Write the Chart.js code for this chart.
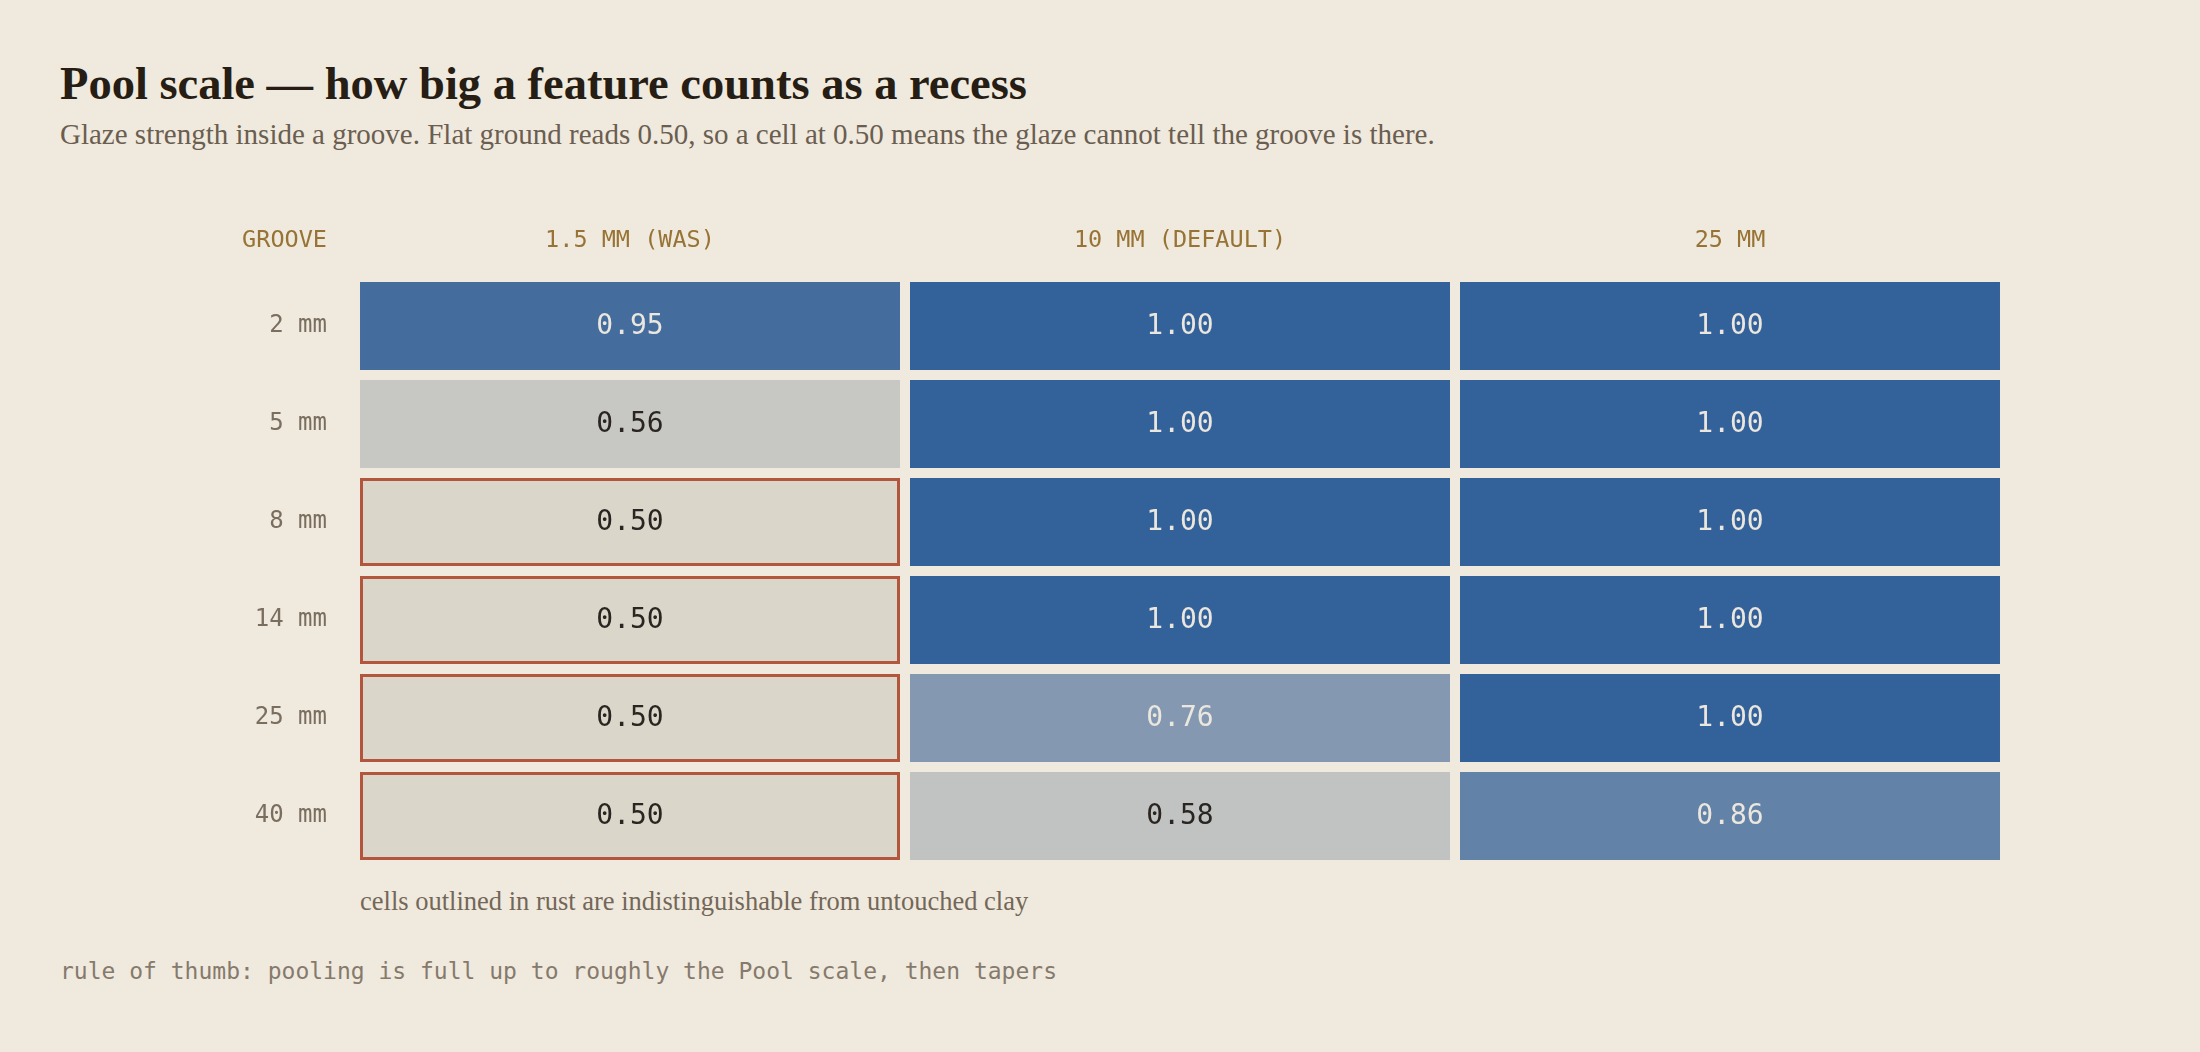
<!DOCTYPE html>
<html>
<head>
<meta charset="utf-8">
<script src="https://cdn.jsdelivr.net/npm/chart.js@4.4.1/dist/chart.umd.min.js"></script>
<style>
  html, body {
    margin: 0;
    padding: 0;
    background: #f0e9de;
    width: 2200px;
    height: 1052px;
    overflow: hidden;
  }
  .txt {
    position: absolute;
    left: 60px;
    line-height: 1;
    white-space: nowrap;
  }
  #title {
    top: 57px;
    font: 700 46.5px "Liberation Serif", serif;
    color: #261d14;
  }
  #subtitle {
    top: 118px;
    font: 400 29px "Liberation Serif", serif;
    color: #6a5e50;
  }
  #note {
    left: 360px;
    top: 886px;
    font: 400 26.5px "Liberation Serif", serif;
    color: #736758;
  }
  #rule {
    top: 958px;
    font: 400 23px "DejaVu Sans Mono", monospace;
    color: #857a6c;
  }
  #wrap {
    position: absolute;
    left: 0;
    top: 190px;
    width: 2200px;
    height: 690px;
  }
</style>
</head>
<body>
<div id="title" class="txt">Pool scale — how big a feature counts as a recess</div>
<div id="subtitle" class="txt">Glaze strength inside a groove. Flat ground reads 0.50, so a cell at 0.50 means the glaze cannot tell the groove is there.</div>
<div id="wrap"><canvas id="poolChart"></canvas></div>
<div id="note" class="txt">cells outlined in rust are indistinguishable from untouched clay</div>
<div id="rule" class="txt">rule of thumb: pooling is full up to roughly the Pool scale, then tapers</div>

<script>
// grooves (rows) and Pool scale settings (columns)
const grooveLabels = ["2 mm", "5 mm", "8 mm", "14 mm", "25 mm", "40 mm"];
const poolLabels = ["1.5 MM (WAS)", "10 MM (DEFAULT)", "25 MM"];

// glaze strength per groove, one array per Pool scale
const pool15 = [0.95, 0.56, 0.5, 0.5, 0.5, 0.5];
const pool10 = [1.0, 1.0, 1.0, 1.0, 0.76, 0.58];
const pool25 = [1.0, 1.0, 1.0, 1.0, 1.0, 0.86];

const flatValue = 0.5;

const mono = "'DejaVu Sans Mono', monospace";
const clay = [219, 214, 202];
const glazeBlue = [51, 97, 153];
const rust = "#b2563e";
const colInset = 0.0091; // leaves a thin gap between columns

function isFlat(v) {
  return Math.abs(v - flatValue) < 0.005;
}

function cellColor(v) {
  const t = Math.max(0, Math.min(1, (v - flatValue) / (1 - flatValue)));
  const c = clay.map((a, i) => Math.round(a + (glazeBlue[i] - a) * t));
  return "rgb(" + c.join(",") + ")";
}

const columns = [pool15, pool10, pool25];

const datasets = columns.map((vals, j) => ({
  label: poolLabels[j],
  values: vals,
  data: vals.map(() => [j + colInset, j + 1 - colInset]),
  backgroundColor: (ctx) => cellColor(vals[ctx.dataIndex]),
  borderColor: rust,
  borderWidth: (ctx) => (isFlat(vals[ctx.dataIndex]) ? 3 : 0),
  borderSkipped: false,
  grouped: false,
  barPercentage: 1,
  categoryPercentage: 88 / 98,
}));

const cellText = {
  id: "cellText",
  afterDatasetsDraw(chart) {
    const { ctx } = chart;
    ctx.save();
    ctx.font = "28px " + mono;
    ctx.textAlign = "center";
    ctx.textBaseline = "middle";
    chart.data.datasets.forEach((ds, i) => {
      chart.getDatasetMeta(i).data.forEach((bar, k) => {
        const v = ds.values[k];
        const p = bar.getCenterPoint();
        ctx.fillStyle = v > 0.65 ? "#ebe7de" : "#2a2520";
        ctx.fillText(v.toFixed(2), p.x, p.y + 1);
      });
    });
    ctx.restore();
  },
};

// "GROOVE" sits above the row labels, on the header line
const cornerLabel = {
  id: "cornerLabel",
  afterDraw(chart) {
    const { ctx } = chart;
    const x = chart.scales.x;
    const y = chart.scales.y;
    const size = x.options.ticks.font.size;
    ctx.save();
    ctx.font = size + "px " + mono;
    ctx.fillStyle = x.options.ticks.color;
    ctx.textAlign = "right";
    ctx.textBaseline = "middle";
    ctx.fillText(
      "GROOVE",
      y.right - y.options.ticks.padding,
      x.bottom - x.options.ticks.padding - (size * 1.2) / 2
    );
    ctx.restore();
  },
};

new Chart(document.getElementById("poolChart"), {
  type: "bar",
  data: { labels: grooveLabels, datasets },
  options: {
    indexAxis: "y",
    responsive: true,
    maintainAspectRatio: false,
    animation: false,
    layout: { padding: { left: 0, right: 195, top: 0, bottom: 15 } },
    plugins: {
      legend: { display: false },
      tooltip: { enabled: false },
    },
    scales: {
      x: {
        type: "linear",
        position: "top",
        min: 0,
        max: 3,
        grid: { display: false, drawTicks: false },
        border: { display: false },
        afterBuildTicks: (scale) => {
          scale.ticks = poolLabels.map((_, i) => ({ value: i + 0.5 }));
        },
        afterFit: (scale) => {
          scale.height = 87;
          scale.paddingLeft = 0;
          scale.paddingRight = 0;
        },
        ticks: {
          autoSkip: false,
          maxRotation: 0,
          padding: 22,
          color: "#977436",
          font: { family: mono, size: 23.5 },
          callback: (v) => poolLabels[Math.floor(v)],
        },
      },
      y: {
        type: "category",
        grid: { display: false, drawTicks: false },
        border: { display: false },
        afterFit: (scale) => {
          scale.width = 355;
          scale.paddingTop = 0;
          scale.paddingBottom = 0;
        },
        ticks: {
          padding: 28,
          color: "#7a6e5e",
          font: { family: mono, size: 24 },
        },
      },
    },
  },
  plugins: [cellText, cornerLabel],
});
</script>
</body>
</html>
